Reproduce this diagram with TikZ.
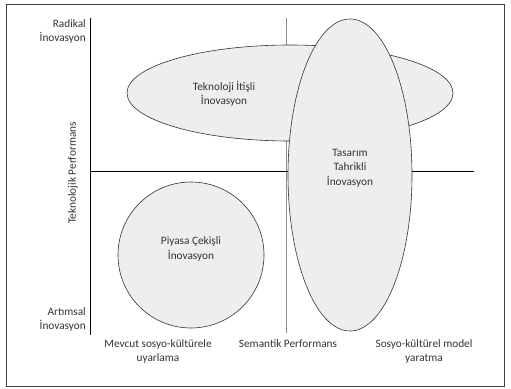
\documentclass[tikz,border=0pt]{standalone}
\usepackage{fontspec}
\setmainfont{Carlito}
\usetikzlibrary{shapes.geometric}
\definecolor{shade}{HTML}{EEEEEE}
\definecolor{edge}{HTML}{333333}
\newcommand{\lblfont}{\fontsize{11.3}{14.5}\selectfont}
\begin{document}
\begin{tikzpicture}[x=1pt,y=-1pt,
  lbl/.style={font=\lblfont, text=black!80, align=center, inner sep=0pt},
  blob/.style={draw=edge, fill=shade, line width=0.6pt, ellipse, inner sep=0pt},
  axis/.style={draw=black, line width=0.7pt},
  guide/.style={draw=black!45, line width=0.5pt}]
\useasboundingbox (0,0) rectangle (511,388);
\node[draw=black!75, line width=0.6pt, minimum width=498pt, minimum height=382pt, inner sep=0pt] (frame) at (255,195) {};
% axes
\coordinate (ytop) at (90,18);
\coordinate (ybot) at (90,335);
\coordinate (xl) at (90,171);
\coordinate (xr) at (474,171);
\coordinate (gtop) at (286,18);
\coordinate (gbot) at (286,333);
\draw[guide] (gtop) -- (gbot);
\draw[axis] (ytop) -- (ybot);
\draw[axis] (xl) -- (xr);
% shapes
\node[blob, minimum width=326pt, minimum height=96pt] (tech) at (290,93) {};
\node[lbl] at (224,94) {Teknoloji İtişli\\İnovasyon};
\node[blob, minimum width=124pt, minimum height=312pt] (design) at (350,175) {};
\node[lbl] at (350,168) {Tasarım\\Tahrikli\\İnovasyon};
\node[blob, circle, minimum size=146pt] (market) at (191,255) {};
\node[lbl] at (191,249) {Piyasa Çekişli\\İnovasyon};
% labels
\node[lbl, anchor=north east, align=right] (rad) at (86,19) {Radikal\\İnovasyon};
\node[lbl, anchor=south east, align=right] (art) at (86,332) {Artımsal\\İnovasyon};
\node[lbl, rotate=90] (tp) at (73,173) {Teknolojik Performans};
\node[lbl, anchor=north] (m1) at (158,339) {Mevcut sosyo-kültürele\\uyarlama};
\node[lbl, anchor=north] (m2) at (288,339) {Semantik Performans};
\node[lbl, anchor=north] (m3) at (424,339) {Sosyo-kültürel model\\yaratma};
\end{tikzpicture}
\end{document}
